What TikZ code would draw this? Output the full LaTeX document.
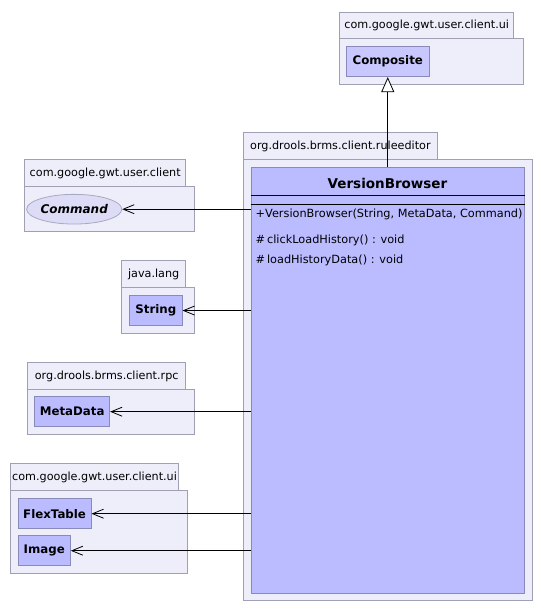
\documentclass[tikz,border=0pt]{standalone}
\usepackage{fontspec}
\setmainfont{DejaVu Sans}
\usetikzlibrary{arrows.meta,shapes.geometric}
\definecolor{pkgfill}{HTML}{EEEEFB}
\definecolor{pkgline}{HTML}{A0A0B4}
\definecolor{clsfill}{HTML}{BBBBFF}
\definecolor{clsfilltop}{HTML}{C8C8FF}
\definecolor{clsline}{HTML}{8A8AB8}
\definecolor{ifcfill}{HTML}{DCDCF6}
\definecolor{ifcline}{HTML}{A8A8C0}
\begin{document}
\begin{tikzpicture}[x=1pt,y=-1pt,
  pkgtab/.style={draw=pkgline, fill=pkgfill, line width=0.8pt, inner sep=0pt, anchor=north west,
    font=\fontsize{11.2}{13}\selectfont},
  pkgbody/.style={draw=pkgline, fill=pkgfill, line width=0.8pt, inner sep=0pt, anchor=north west},
  cls/.style={draw=clsline, fill=clsfill, line width=0.8pt, inner sep=0pt, anchor=north west,
    font=\bfseries\fontsize{11.8}{13}\selectfont},
  ifc/.style={ellipse, draw=ifcline, fill=ifcfill, line width=0.8pt, inner sep=0pt,
    font=\bfseries\itshape\fontsize{12}{13}\selectfont},
  member/.style={anchor=west, inner sep=0pt, font=\fontsize{11.3}{13}\selectfont},
  dep/.style={draw=black, line width=0.8pt, -{Straight Barb[length=11pt,width=9pt,line width=0.8pt]}},
  gen/.style={draw=black, line width=0.8pt, -{Triangle[fill=white,length=15pt,width=13pt,line width=0.8pt]}}
]
\useasboundingbox (0,0) rectangle (543,613);

% top ui package
\node[pkgbody, minimum width=184pt, minimum height=46pt] (p1b) at (339.3,38.3) {};
\node[pkgtab, minimum width=174pt, minimum height=26.6pt] (p1t) at (339.3,11.7) {com.google.gwt.user.client.ui};
\node[cls, fill=clsfilltop, minimum width=82.7pt, minimum height=30pt] (comp) at (346,46.3) {Composite};

% ruleeditor package
\node[pkgbody, minimum width=289pt, minimum height=440.7pt] (p2b) at (243.3,159.3) {};
\node[pkgtab, minimum width=193.4pt, minimum height=27pt] (p2t) at (243.3,132.3) {org.drools.brms.client.ruleeditor};
\node[cls, minimum width=273.6pt, minimum height=426pt] (vb) at (250.7,166.7) {};
\node[inner sep=0pt, font=\bfseries\fontsize{13.5}{15}\selectfont] (vbt) at (387.5,183.5) {VersionBrowser};
\draw[line width=0.8pt] ([yshift=-29pt]vb.north west) -- ([yshift=-29pt]vb.north east);
\draw[line width=0.8pt] ([yshift=-37.3pt]vb.north west) -- ([yshift=-37.3pt]vb.north east);
\node[member] (m1) at (255.5,214.3) {+VersionBrowser(String, MetaData, Command)};
\node[member] (m2) at (255.5,240.7) {\#\,clickLoadHistory() : void};
\node[member] (m3) at (255.5,260) {\#\,loadHistoryData() : void};

% client package
\node[pkgbody, minimum width=170pt, minimum height=45pt] (p3b) at (24.3,186) {};
\node[pkgtab, minimum width=161pt, minimum height=26.7pt] (p3t) at (24.3,159.3) {com.google.gwt.user.client};
\node[ifc, minimum width=86.3pt, minimum height=29.7pt] (cmd) at (74.2,209.2) {Command};

% java.lang package
\node[pkgbody, minimum width=73pt, minimum height=46.3pt] (p4b) at (121.3,287) {};
\node[pkgtab, minimum width=64pt, minimum height=26.7pt] (p4t) at (121.3,260.3) {java.lang};
\node[cls, minimum width=52.4pt, minimum height=30.3pt] (str) at (129.3,295) {String};

% rpc package
\node[pkgbody, minimum width=167pt, minimum height=45.3pt] (p5b) at (27.3,389) {};
\node[pkgtab, minimum width=158pt, minimum height=26.7pt] (p5t) at (27.3,362.3) {org.drools.brms.client.rpc};
\node[cls, minimum width=75pt, minimum height=30pt] (md) at (34.3,396.3) {MetaData};

% bottom ui package
\node[pkgbody, minimum width=177.3pt, minimum height=83.3pt] (p6b) at (10,490) {};
\node[pkgtab, minimum width=168.3pt, minimum height=26.7pt] (p6t) at (10,463.3) {com.google.gwt.user.client.ui};
\node[cls, minimum width=73pt, minimum height=30pt] (ft) at (17.7,498.3) {FlexTable};
\node[cls, minimum width=52.3pt, minimum height=30pt] (img) at (17.7,535.3) {Image};

% connectors
\draw[gen] (vb.north -| comp.south) -- (comp.south);
\draw[dep] (vb.west |- cmd.east) -- (cmd.east);
\draw[dep] (vb.west |- str.east) -- (str.east);
\draw[dep] (vb.west |- md.east) -- (md.east);
\draw[dep] (vb.west |- ft.east) -- (ft.east);
\draw[dep] (vb.west |- img.east) -- (img.east);
\end{tikzpicture}
\end{document}
